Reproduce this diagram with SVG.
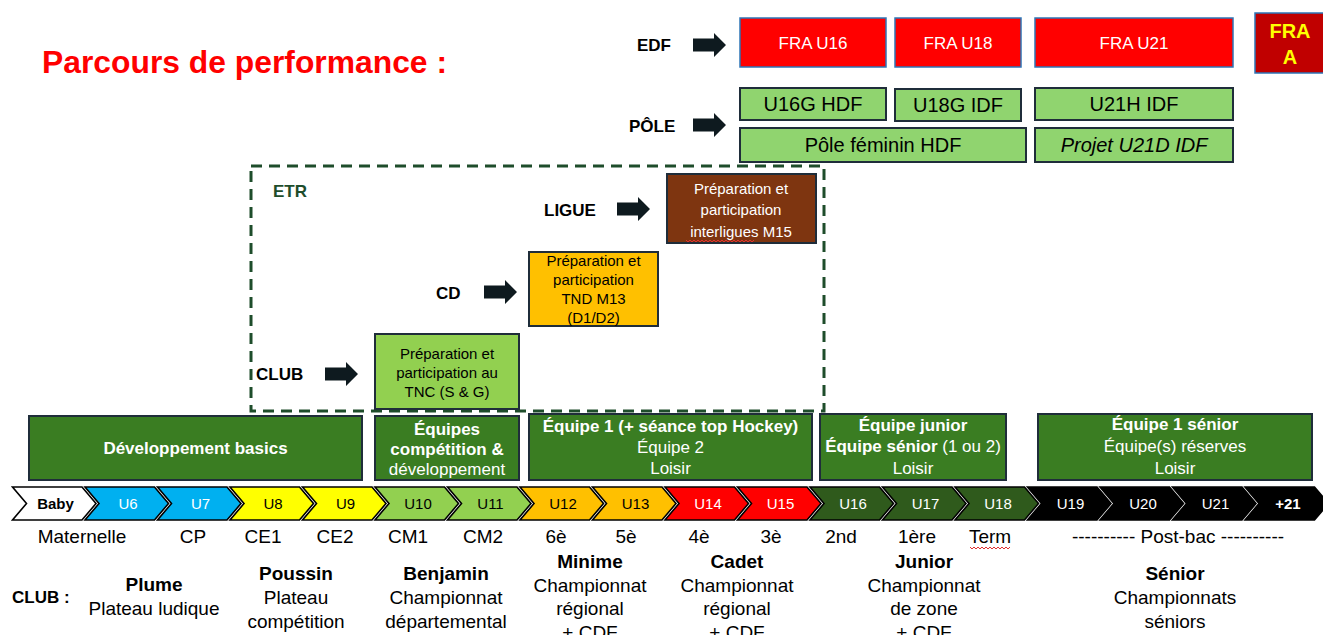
<svg xmlns="http://www.w3.org/2000/svg" xmlns:xlink="http://www.w3.org/1999/xlink" width="1323" height="635" viewBox="0 0 1323 635">
<style>
text{font-family:"Liberation Sans",Arial,sans-serif}
.b{font-weight:bold}
.lbl{font-size:17px;font-weight:bold;fill:#000}
.red{fill:#FF0000;stroke:#2E75B6;stroke-width:1.5}
.redt{fill:#fff;font-size:17px;text-anchor:middle}
.pole{fill:#90D46F;stroke:#1F2D3A;stroke-width:2}
.polet{fill:#000;font-size:20px;text-anchor:middle}
.gbox{fill:#3A7D22;stroke:#1F2D3A;stroke-width:2}
.gt{fill:#fff;font-size:17px;text-anchor:middle}
.etrt{font-size:15px;text-anchor:middle}
.chev{stroke:#000;stroke-width:1.6}
.ct{font-size:15px;text-anchor:middle}
.sch{font-size:19px;fill:#000;text-anchor:middle}
.bot{font-size:19px;fill:#000;text-anchor:middle}
.arrow{fill:#0E1A1F}
.wavy{fill:none;stroke:#E03030;stroke-width:1}
</style>
<defs>
<path id="arr" d="M0,-6.5 H21 V-12 L33,0 L21,12 V6.5 H0 Z"/>
<path id="chev" d="M0,0 H69.5 L83.5,16.5 L69.5,33 H0 L14,16.5 Z"/>
</defs>
<rect width="1323" height="635" fill="#fff"/>

<g id="title">
<text x="42" y="73" class="b" font-size="32" fill="#FF0000" textLength="405" lengthAdjust="spacingAndGlyphs">Parcours de performance :</text>
</g>

<g id="labels">
<text x="637" y="51" class="lbl">EDF</text>
<text x="629" y="132" class="lbl">PÔLE</text>
<text x="544" y="216" class="lbl">LIGUE</text>
<text x="436" y="299" class="lbl">CD</text>
<text x="256" y="380" class="lbl">CLUB</text>
<text x="273" y="197" class="b" font-size="17" fill="#1E4D2B">ETR</text>
</g>

<g id="connectors">
<use href="#arr" x="693" y="45" class="arrow"/>
<use href="#arr" x="693" y="125" class="arrow"/>
<use href="#arr" x="617" y="209" class="arrow"/>
<use href="#arr" x="484" y="292" class="arrow"/>
<use href="#arr" x="325" y="374" class="arrow"/>
</g>

<g id="edf">
<g id="fra-u16"><rect x="740" y="18" width="146" height="49" class="red"/><text x="813" y="49" class="redt">FRA U16</text></g>
<g id="fra-u18"><rect x="895" y="18" width="126" height="49" class="red"/><text x="958" y="49" class="redt">FRA U18</text></g>
<g id="fra-u21"><rect x="1035" y="18" width="198" height="49" class="red"/><text x="1134" y="49" class="redt">FRA U21</text></g>
<g id="fra-a"><rect x="1255" y="13" width="70" height="60" fill="#C00000" stroke="#2E75B6" stroke-width="1.5"/>
<text x="1290" y="38" class="b" font-size="20" fill="#FFFF00" text-anchor="middle">FRA</text>
<text x="1290" y="64" class="b" font-size="20" fill="#FFFF00" text-anchor="middle">A</text></g>
</g>

<g id="pole">
<g id="u16g"><rect x="740" y="88" width="146" height="32" class="pole"/><text x="813" y="111" class="polet">U16G HDF</text></g>
<g id="u18g"><rect x="895" y="89" width="126" height="32" class="pole"/><text x="958" y="112" class="polet">U18G IDF</text></g>
<g id="u21h"><rect x="1035" y="88" width="198" height="32" class="pole"/><text x="1134" y="111" class="polet">U21H IDF</text></g>
<g id="pole-fem"><rect x="740" y="128" width="286" height="34" class="pole"/><text x="883" y="152" class="polet">Pôle féminin HDF</text></g>
<g id="u21d"><rect x="1035" y="128" width="198" height="34" class="pole"/><text x="1134" y="152" class="polet" font-style="italic">Projet U21D IDF</text></g>
</g>

<g id="etr">
<rect x="251" y="166" width="573" height="245" fill="none" stroke="#1E4D2B" stroke-width="3" stroke-dasharray="11 7"/>
</g>

<g id="ligue-box">
<rect x="667" y="174" width="149" height="69" fill="#7E3510" stroke="#1F2D3A" stroke-width="2"/>
<text x="741" y="194" class="etrt" fill="#fff">Préparation et</text>
<text x="741" y="215" class="etrt" fill="#fff">participation</text>
<text x="741" y="237" class="etrt" fill="#fff">interligues M15</text>
<path class="wavy" d="M686,240 l2,2 l2,-2 l2,2 l2,-2 l2,2 l2,-2 l2,2 l2,-2 l2,2 l2,-2 l2,2 l2,-2 l2,2 l2,-2 l2,2 l2,-2 l2,2 l2,-2 l2,2 l2,-2 l2,2 l2,-2 l2,2 l2,-2 l2,2 l2,-2 l2,2 l2,-2 l2,2 l2,-2 l2,2 l2,-2 l2,2 l2,-2"/>
</g>

<g id="cd-box">
<rect x="529" y="252" width="129" height="74" fill="#FFC000" stroke="#1F2D3A" stroke-width="2"/>
<text x="593.5" y="266" class="etrt" font-size="14" fill="#000">Préparation et</text>
<text x="593.5" y="285" class="etrt" font-size="14" fill="#000">participation</text>
<text x="593.5" y="304" class="etrt" font-size="14" fill="#000">TND M13</text>
<text x="593.5" y="323" class="etrt" font-size="14" fill="#000">(D1/D2)</text>
</g>

<g id="club-box">
<rect x="375" y="334" width="144" height="75" fill="#92D050" stroke="#1F2D3A" stroke-width="2"/>
<text x="447" y="359" class="etrt" fill="#000">Préparation et</text>
<text x="447" y="378" class="etrt" fill="#000">participation au</text>
<text x="447" y="397" class="etrt" fill="#000">TNC (S &amp; G)</text>
</g>

<g id="dev-basics">
<rect x="29" y="416" width="333" height="64" class="gbox"/>
<text x="195.5" y="454" class="gt b">Développement basics</text>
</g>
<g id="equipes-comp">
<rect x="375" y="416" width="144" height="64" class="gbox"/>
<text x="447" y="435" class="gt b" font-size="16">Équipes</text>
<text x="447" y="455" class="gt b" font-size="16">compétition &amp;</text>
<text x="447" y="475" class="gt" font-size="16">développement</text>
</g>
<g id="equipe1">
<rect x="529" y="414" width="283" height="66" class="gbox"/>
<text x="670.5" y="432" class="gt b">Équipe 1 (+ séance top Hockey)</text>
<text x="670.5" y="453" class="gt">Équipe 2</text>
<text x="670.5" y="474" class="gt">Loisir</text>
</g>
<g id="equipe-junior">
<rect x="820" y="414" width="186" height="66" class="gbox"/>
<text x="913" y="431" class="gt b">Équipe junior</text>
<text x="913" y="452" class="gt"><tspan class="b">Équipe sénior</tspan> (1 ou 2)</text>
<text x="913" y="474" class="gt">Loisir</text>
</g>
<g id="equipe-senior">
<rect x="1038" y="414" width="274" height="66" class="gbox"/>
<text x="1175" y="430" class="gt b">Équipe 1 sénior</text>
<text x="1175" y="452" class="gt">Équipe(s) réserves</text>
<text x="1175" y="474" class="gt">Loisir</text>
</g>

<g id="chevrons">
<g id="c-baby"><use href="#chev" x="12.5" y="487" class="chev" fill="#fff"/><text x="55.5" y="509" class="ct b" fill="#000">Baby</text></g>
<g id="c-u6"><use href="#chev" x="85" y="487" class="chev" fill="#00B0F0"/><text x="128" y="509" class="ct" fill="#fff">U6</text></g>
<g id="c-u7"><use href="#chev" x="157.5" y="487" class="chev" fill="#00B0F0"/><text x="200.5" y="509" class="ct" fill="#fff">U7</text></g>
<g id="c-u8"><use href="#chev" x="230" y="487" class="chev" fill="#FFFF00"/><text x="273" y="509" class="ct" fill="#000">U8</text></g>
<g id="c-u9"><use href="#chev" x="302.5" y="487" class="chev" fill="#FFFF00"/><text x="345.5" y="509" class="ct" fill="#000">U9</text></g>
<g id="c-u10"><use href="#chev" x="375" y="487" class="chev" fill="#92D050"/><text x="418" y="509" class="ct" fill="#000">U10</text></g>
<g id="c-u11"><use href="#chev" x="447.5" y="487" class="chev" fill="#92D050"/><text x="490.5" y="509" class="ct" fill="#000">U11</text></g>
<g id="c-u12"><use href="#chev" x="520" y="487" class="chev" fill="#FFC000"/><text x="563" y="509" class="ct" fill="#000">U12</text></g>
<g id="c-u13"><use href="#chev" x="592.5" y="487" class="chev" fill="#FFC000"/><text x="635.5" y="509" class="ct" fill="#000">U13</text></g>
<g id="c-u14"><use href="#chev" x="665" y="487" class="chev" fill="#FF0000"/><text x="708" y="509" class="ct" fill="#fff">U14</text></g>
<g id="c-u15"><use href="#chev" x="737.5" y="487" class="chev" fill="#FF0000"/><text x="780.5" y="509" class="ct" fill="#fff">U15</text></g>
<g id="c-u16"><use href="#chev" x="810" y="487" class="chev" fill="#2F5A1C"/><text x="853" y="509" class="ct" fill="#fff">U16</text></g>
<g id="c-u17"><use href="#chev" x="882.5" y="487" class="chev" fill="#2F5A1C"/><text x="925.5" y="509" class="ct" fill="#fff">U17</text></g>
<g id="c-u18"><use href="#chev" x="955" y="487" class="chev" fill="#2F5A1C"/><text x="998" y="509" class="ct" fill="#fff">U18</text></g>
<g id="c-u19"><use href="#chev" x="1027.5" y="487" class="chev" fill="#000"/><text x="1070.5" y="509" class="ct" fill="#fff">U19</text></g>
<g id="c-u20"><use href="#chev" x="1100" y="487" class="chev" fill="#000"/><text x="1143" y="509" class="ct" fill="#fff">U20</text></g>
<g id="c-u21"><use href="#chev" x="1172.5" y="487" class="chev" fill="#000"/><text x="1215.5" y="509" class="ct" fill="#fff">U21</text></g>
<g id="c-plus21"><use href="#chev" x="1245" y="487" class="chev" fill="#000"/><text x="1288" y="509" class="ct b" fill="#fff">+21</text></g>
</g>

<g id="school">
<text x="82" y="543" class="sch">Maternelle</text>
<text x="193" y="543" class="sch">CP</text>
<text x="263" y="543" class="sch">CE1</text>
<text x="335" y="543" class="sch">CE2</text>
<text x="408" y="543" class="sch">CM1</text>
<text x="483" y="543" class="sch">CM2</text>
<text x="556" y="543" class="sch">6è</text>
<text x="626" y="543" class="sch">5è</text>
<text x="699" y="543" class="sch">4è</text>
<text x="771" y="543" class="sch">3è</text>
<text x="841" y="543" class="sch">2nd</text>
<text x="917" y="543" class="sch">1ère</text>
<text x="990" y="543" class="sch">Term</text>
<path class="wavy" d="M970,547 l2,2 l2,-2 l2,2 l2,-2 l2,2 l2,-2 l2,2 l2,-2 l2,2 l2,-2 l2,2 l2,-2 l2,2 l2,-2 l2,2 l2,-2 l2,2 l2,-2 l2,2 l2,-2"/>
<text x="1178" y="543" class="sch">---------- Post-bac ----------</text>
</g>

<g id="club-categories">
<text x="12" y="603" class="b" font-size="17">CLUB :</text>
<g id="plume"><text x="154" y="591" class="bot b">Plume</text><text x="154" y="615" class="bot">Plateau ludique</text></g>
<g id="poussin"><text x="296" y="580" class="bot b">Poussin</text><text x="296" y="604" class="bot">Plateau</text><text x="296" y="628" class="bot">compétition</text></g>
<g id="benjamin"><text x="446" y="580" class="bot b">Benjamin</text><text x="446" y="604" class="bot">Championnat</text><text x="446" y="628" class="bot">départemental</text></g>
<g id="minime"><text x="590" y="568" class="bot b">Minime</text><text x="590" y="592" class="bot">Championnat</text><text x="590" y="615" class="bot">régional</text><text x="590" y="639" class="bot">+ CDF</text></g>
<g id="cadet"><text x="737" y="568" class="bot b">Cadet</text><text x="737" y="592" class="bot">Championnat</text><text x="737" y="615" class="bot">régional</text><text x="737" y="639" class="bot">+ CDF</text></g>
<g id="junior"><text x="924" y="568" class="bot b">Junior</text><text x="924" y="592" class="bot">Championnat</text><text x="924" y="615" class="bot">de zone</text><text x="924" y="639" class="bot">+ CDF</text></g>
<g id="senior"><text x="1175" y="580" class="bot b">Sénior</text><text x="1175" y="604" class="bot">Championnats</text><text x="1175" y="628" class="bot">séniors</text></g>
</g>
</svg>
